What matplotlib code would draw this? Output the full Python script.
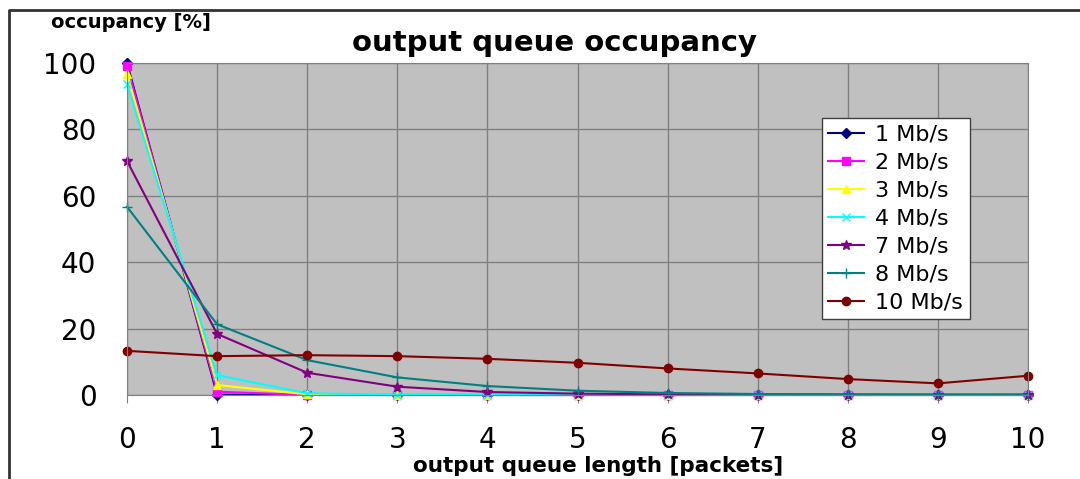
import matplotlib
matplotlib.use('Agg')
import matplotlib.pyplot as plt
from matplotlib.lines import Line2D

plt.rcParams['font.family'] = ['DejaVu Sans']

queue_len = [0, 1, 2, 3, 4, 5, 6, 7, 8, 9, 10]
labels = ['1 Mb/s', '2 Mb/s', '3 Mb/s', '4 Mb/s', '7 Mb/s', '8 Mb/s', '10 Mb/s']
occ_1 = [100.0, 0.1, 0, 0, 0, 0, 0, 0, 0, 0, 0]
occ_2 = [99.2, 1.0, 0, 0, 0, 0, 0, 0, 0, 0, 0]
occ_3 = [96.7, 3.0, 0.2, 0, 0, 0, 0, 0, 0, 0, 0]
occ_4 = [93.6, 6.0, 0.5, 0.1, 0, 0, 0, 0, 0, 0, 0]
occ_7 = [70.5, 18.4, 6.7, 2.5, 0.9, 0.4, 0.2, 0.1, 0.1, 0.1, 0.1]
occ_8 = [56.7, 21.3, 10.5, 5.3, 2.7, 1.3, 0.6, 0.3, 0.2, 0.1, 0.1]
occ_10 = [13.3, 11.7, 12.0, 11.7, 10.9, 9.7, 8.0, 6.5, 4.8, 3.5, 5.8]

series = [occ_1, occ_2, occ_3, occ_4, occ_7, occ_8, occ_10]
colors = ['#000080', '#ff00ff', '#ffff00', '#00ffff', '#800080', '#008080', '#800000']
markers = ['D', 's', '^', 'x', '*', '+', 'o']
msizes = [5, 6, 6, 6, 7, 7, 6]

fig = plt.figure(figsize=(10.8, 4.79), dpi=100)
ax = fig.add_axes([127/1080, 1-395/479, 901/1080, 332/479])
ax.set_facecolor('#c0c0c0')

for y, lab, c, m, ms in zip(series, labels, colors, markers, msizes):
    ax.plot(queue_len, y, color=c, marker=m, markersize=ms, linewidth=1.5,
            label=lab, clip_on=False)

ax.set_xlim(0, 10)
ax.set_ylim(0, 100)
ax.set_xticks(queue_len)
ax.set_yticks([0, 20, 40, 60, 80, 100])
ax.grid(True, color='#808080', linewidth=1)
ax.set_axisbelow(True)
for s in ax.spines.values():
    s.set_color('#808080')
ax.tick_params(axis='x', length=6, color='#808080', pad=16, labelsize=20)
ax.tick_params(axis='y', length=0, pad=22, labelsize=20)

fig.text(555/1080, 1-51/479, 'output queue occupancy', fontsize=21,
         fontweight='bold', ha='center', va='baseline')
fig.text(598/1080, 1-466/479, 'output queue length [packets]', fontsize=15.5,
         fontweight='bold', ha='center', va='center')
fig.text(131/1080, 1-22/479, 'occupancy [%]', fontsize=14, fontweight='bold',
         ha='center', va='center')

leg = ax.legend(loc='upper left', bbox_to_anchor=(0.771, 0.834), borderaxespad=0,
                fontsize=16, fancybox=False, framealpha=1, edgecolor='#404040',
                handlelength=1.6, labelspacing=0.36, handletextpad=0.5,
                borderpad=0.3)
leg.get_frame().set_linewidth(1)

# outer chart frame (top and left edges)
fig.add_artist(Line2D([9/1080, 9/1080, 1], [0, 1-10/479, 1-10/479],
                      transform=fig.transFigure, color='#333333', linewidth=2))

fig.savefig('out.png', dpi=100)
